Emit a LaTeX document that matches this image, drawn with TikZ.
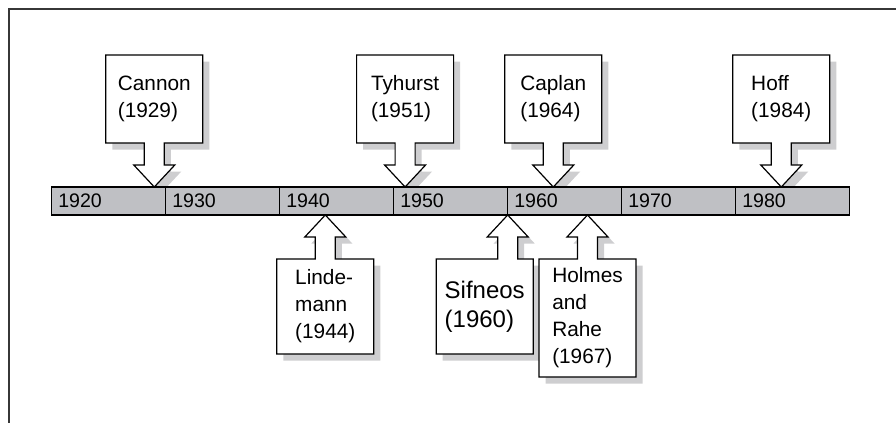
\documentclass[tikz,border=0pt]{standalone}
\usepackage{fontspec}
\setmainfont{Liberation Sans}
\usetikzlibrary{calc,positioning,backgrounds}
\definecolor{bargray}{RGB}{191,192,196}
\definecolor{shadowgray}{RGB}{206,206,208}
\definecolor{framegray}{RGB}{55,55,55}
\pgfdeclarelayer{shade}
\pgfsetlayers{shade,background,main}

% box with a block arrow pointing down to the bar; #1 = shift of the copy
\newcommand{\calloutdown}[3]{let \p1=(#2.south west), \p2=(#2.north east), \p3=(#3) in
  (\x1+#1,\y1-#1) -- (\x1+#1,\y2-#1) -- (\x2+#1,\y2-#1) -- (\x2+#1,\y1-#1)
  -- (\x3+5pt+#1,\y1-#1) -- (\x3+5pt+#1,\y3+11pt-#1) -- (\x3+10.25pt+#1,\y3+11pt-#1)
  -- (\x3+#1,\y3-#1)
  -- (\x3-10.25pt+#1,\y3+11pt-#1) -- (\x3-5pt+#1,\y3+11pt-#1) -- (\x3-5pt+#1,\y1-#1) -- cycle}
% box with a block arrow pointing up to the bar
\newcommand{\calloutup}[3]{let \p1=(#2.south west), \p2=(#2.north east), \p3=(#3) in
  (\x1+#1,\y2-#1) -- (\x1+#1,\y1-#1) -- (\x2+#1,\y1-#1) -- (\x2+#1,\y2-#1)
  -- (\x3+5pt+#1,\y2-#1) -- (\x3+5pt+#1,\y3-11pt-#1) -- (\x3+10.25pt+#1,\y3-11pt-#1)
  -- (\x3+#1,\y3-#1)
  -- (\x3-10.25pt+#1,\y3-11pt-#1) -- (\x3-5pt+#1,\y3-11pt-#1) -- (\x3-5pt+#1,\y2-#1) -- cycle}

\begin{document}
\begin{tikzpicture}[x=0.5pt,y=-0.5pt,
    decade/.style={draw, fill=bargray, line width=0.6pt, anchor=west,
      minimum width=57pt, minimum height=14pt, inner xsep=3.3pt,
      text width=50.4pt, align=left, outer sep=0pt,
      font=\fontsize{9.8}{12}\selectfont},
    event/.style={minimum width=48.5pt, align=left, outer sep=0pt,
      font=\fontsize{10.4}{13.5}\selectfont},
    outline/.style={draw, fill=white, line width=0.6pt, line join=miter},
    boxshadow/.style={fill=shadowgray}]
  \useasboundingbox (0,0) rectangle (896,423);
  \draw[framegray, line width=0.8pt] (9,423) -- (9,9) -- (896,9);

  % the time bar
  \foreach \yr [count=\i from 0] in {1920,1930,...,1980}
    \node[decade] (d\yr) at (51.7+114*\i,201) {\yr};

  \coordinate (t1929) at ($(d1920.north west)!0.9!(d1920.north east)$);
  \coordinate (t1951) at ($(d1950.north west)!0.1!(d1950.north east)$);
  \coordinate (t1964) at ($(d1960.north west)!0.4!(d1960.north east)$);
  \coordinate (t1984) at ($(d1980.north west)!0.4!(d1980.north east)$);
  \coordinate (t1944) at ($(d1940.south west)!0.4!(d1940.south east)$);
  \coordinate (t1960) at (d1960.south west);
  \coordinate (t1967) at ($(d1960.south west)!0.7!(d1960.south east)$);

  % events above the bar
  \node[event, minimum height=44pt, above=22pt of t1929] (cannon) {Cannon\\(1929)};
  \node[event, minimum height=44pt, above=22pt of t1951] (tyhurst) {Tyhurst\\(1951)};
  \node[event, minimum height=44pt, above=22pt of t1964] (caplan) {Caplan\\(1964)};
  \node[event, minimum height=44pt, above=22pt of t1984] (hoff) {Hoff\\(1984)};
  % events below the bar
  \node[event, minimum height=47.5pt, below=22pt of t1944] (lindemann) {Linde-\\mann\\(1944)};
  \node[event, minimum height=47.5pt, below=22pt of t1960, xshift=-11.5pt,
    font=\fontsize{12}{14.5}\selectfont] (sifneos) {Sifneos\\(1960)};
  \node[event, minimum height=59pt, below=22pt of t1967] (holmes) {Holmes\\and\\Rahe\\(1967)};

  \begin{pgfonlayer}{shade}
    \fill[boxshadow] \calloutdown{3.25pt}{cannon}{t1929};
    \fill[boxshadow] \calloutdown{3.25pt}{tyhurst}{t1951};
    \fill[boxshadow] \calloutdown{3.25pt}{caplan}{t1964};
    \fill[boxshadow] \calloutdown{3.25pt}{hoff}{t1984};
    \fill[boxshadow] \calloutup{3.25pt}{lindemann}{t1944};
    \fill[boxshadow] \calloutup{3.25pt}{sifneos}{t1960};
    \fill[boxshadow] \calloutup{3.25pt}{holmes}{t1967};
  \end{pgfonlayer}
  \begin{pgfonlayer}{background}
    \path[outline] \calloutdown{0pt}{cannon}{t1929};
    \path[outline] \calloutdown{0pt}{tyhurst}{t1951};
    \path[outline] \calloutdown{0pt}{caplan}{t1964};
    \path[outline] \calloutdown{0pt}{hoff}{t1984};
    \path[outline] \calloutup{0pt}{lindemann}{t1944};
    \path[outline] \calloutup{0pt}{sifneos}{t1960};
    \path[outline] \calloutup{0pt}{holmes}{t1967};
  \end{pgfonlayer}
\end{tikzpicture}
\end{document}
